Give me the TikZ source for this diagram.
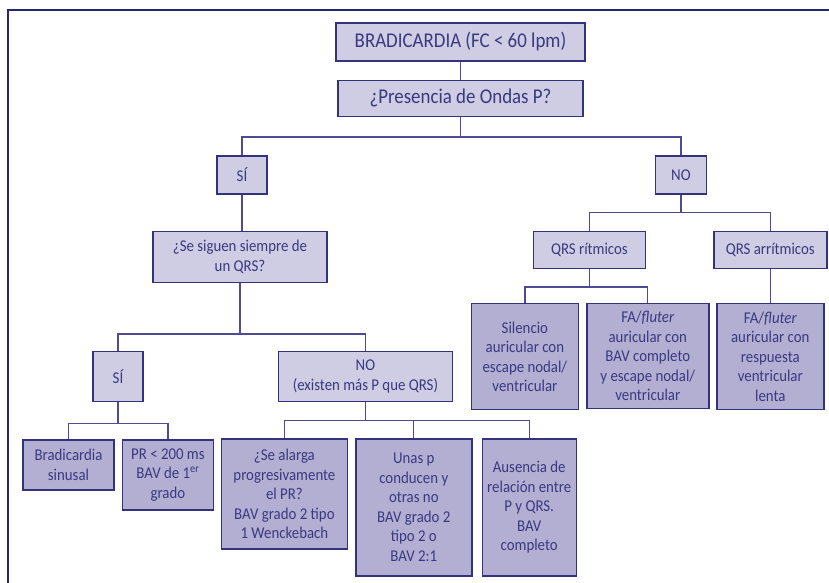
\documentclass[tikz,border=0pt]{standalone}
\usepackage{fontspec}
\setmainfont{Carlito}[FakeStretch=0.9]
\usepackage{tikz}
\usetikzlibrary{
  positioning,
  calc
}
\usepackage{xcolor}
\definecolor{framenavy}{RGB}{40,  38, 112}
\definecolor{boxnavy}  {RGB}{52,  50, 122}
\definecolor{linknavy} {RGB}{78,  75, 148}
\definecolor{textnavy} {RGB}{58,  57, 128}
\definecolor{upfill}   {RGB}{206, 205, 227}
\definecolor{leaffill} {RGB}{178, 175, 210}
\newcommand{\topfont}{\fontsize{21}{25}\selectfont}
\newcommand{\boxfont}{\fontsize{16.5}{19.5}\selectfont}
\tikzset{
  qbox/.style={
    draw=boxnavy, fill=upfill, line width=1.4pt,
    inner sep=0pt, align=center, text=textnavy, font=\boxfont
  },
  headbox/.style={
    qbox, font=\topfont
  },
  leaf/.style={
    qbox, fill=leaffill
  },
  link/.style={
    draw=linknavy, line width=1.3pt
  },
  frameline/.style={
    draw=framenavy, line width=2.8pt
  },
}

\begin{document}
\begin{tikzpicture}

\useasboundingbox (0pt,0pt) rectangle (829pt,-582pt);

% ── Outer frame ───────────────────────────────────────────────────────────────
\draw[frameline] (8pt,-600pt) |- (850pt,-10pt);

% ── Head ──────────────────────────────────────────────────────────────────────
\node[headbox, minimum width=249pt, minimum height=38pt] (brad)
  at (460.5pt,-42pt) {BRADICARDIA (FC < 60 lpm)};

\node[headbox, minimum width=245pt, minimum height=36pt,
      below=18pt of brad] (pres) {¿Presencia de Ondas P?};

% ── First split: SÍ / NO ──────────────────────────────────────────────────────
\node[qbox, minimum width=50pt, minimum height=38pt,
      below=38pt of pres, xshift=-218.5pt] (si1) {SÍ};

\node[qbox, minimum width=51pt, minimum height=38pt,
      right=387pt of si1] (no1) {NO};

% ── SÍ branch ─────────────────────────────────────────────────────────────────
\node[qbox, minimum width=174pt, minimum height=51pt,
      below=36pt of si1, xshift=-2pt] (sigue) {
  ¿Se siguen siempre de\\
  un QRS?
};

\node[qbox, minimum width=50pt, minimum height=50pt,
      below=68pt of sigue, xshift=-122pt] (si2) {SÍ};

\node[qbox, minimum width=174pt, minimum height=50pt,
      right=134pt of si2] (no2) {
  NO\\
  (existen más P que QRS)
};

\node[leaf, minimum width=91pt, minimum height=50pt,
      below=37pt of si2, xshift=-49.5pt] (sinus) {
  Bradicardia\\
  sinusal
};

\node[leaf, minimum width=91pt, minimum height=70pt,
      right=7pt of sinus.north east, anchor=north west] (prcorto) {
  PR < 200 ms\\
  BAV de 1\textsuperscript{er}\\
  grado
};

\node[leaf, minimum width=126pt, minimum height=110pt,
      below=36pt of no2, xshift=-81pt] (alarga) {
  ¿Se alarga\\
  progresivamente\\
  el PR?\\
  BAV grado 2 tipo\\
  1 Wenckebach
};

\node[leaf, minimum width=116pt, minimum height=137pt,
      right=7pt of alarga.north east, anchor=north west] (unasp) {
  Unas p\\
  conducen y\\
  otras no\\
  BAV grado 2\\
  tipo 2 o\\
  BAV 2:1
};

\node[leaf, minimum width=94pt, minimum height=137pt,
      right=9pt of unasp.north east, anchor=north west] (ausencia) {
  Ausencia de\\
  relación entre\\
  P y QRS.\\
  BAV\\
  completo
};

% ── NO branch ─────────────────────────────────────────────────────────────────
\node[qbox, minimum width=112pt, minimum height=37pt,
      below=36pt of no1, xshift=-91.5pt] (ritmo) {QRS rítmicos};

\node[qbox, minimum width=113pt, minimum height=37pt,
      right=67pt of ritmo] (arritmo) {QRS arrítmicos};

\node[leaf, minimum width=107pt, minimum height=106pt,
      below=34pt of ritmo, xshift=-64.5pt] (silencio) {
  Silencio\\
  auricular con\\
  escape nodal/\\
  ventricular
};

\node[leaf, minimum width=122pt, minimum height=105pt,
      right=7pt of silencio.north east, anchor=north west] (fluterbav) {
  FA/\textit{fluter}\\
  auricular con\\
  BAV completo\\
  y escape nodal/\\
  ventricular
};

\node[leaf, minimum width=107pt, minimum height=106pt,
      below=34pt of arritmo] (fluterlenta) {
  FA/\textit{fluter}\\
  auricular con\\
  respuesta\\
  ventricular\\
  lenta
};

% ── Connectors ────────────────────────────────────────────────────────────────
\draw[link] (brad.south) -- (pres.north);

\draw[link] (pres.south) -- ++(0,-20pt) coordinate (bus1);
\draw[link] (si1.north) |- (bus1) -| (no1.north);

\draw[link] (si1.south) -- (si1.south |- sigue.north);

\draw[link] (sigue.south) -- ++(0,-51pt) coordinate (bus2);
\draw[link] (si2.north) |- (bus2) -| (no2.north);

\draw[link] (si2.south) -- ++(0,-21pt) coordinate (bus3);
\draw[link] (sinus.north) |- (bus3) -| (prcorto.north);

\draw[link] (no2.south) -- ++(0,-18pt) coordinate (bus4);
\draw[link] (alarga.north) |- (bus4) -| (ausencia.north);
\draw[link] (unasp.north) -- (unasp.north |- bus4);

\draw[link] (no1.south) -- ++(0,-18pt) coordinate (bus5);
\draw[link] (ritmo.north) |- (bus5) -| (arritmo.north);

\draw[link] (ritmo.south) -- ++(0,-18pt) coordinate (bus6);
\draw[link] (silencio.north) |- (bus6) -| (fluterbav.north);

\draw[link] (arritmo.south) -- (fluterlenta.north);

\end{tikzpicture}
\end{document}
